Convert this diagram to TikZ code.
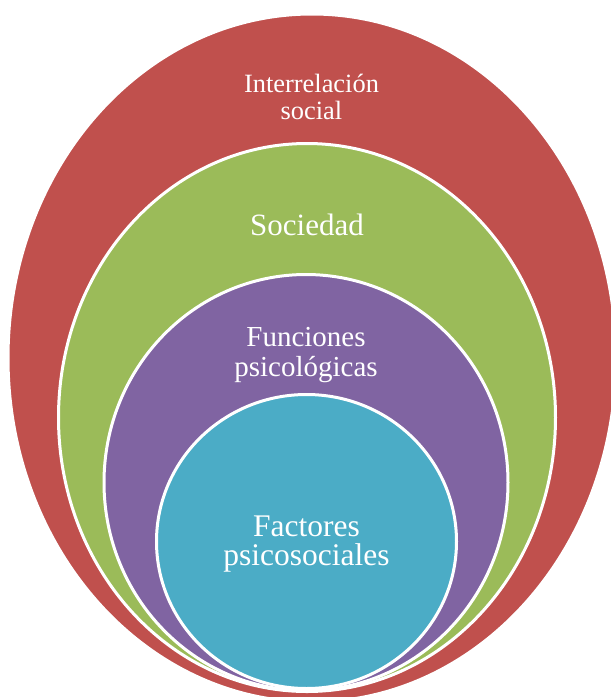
\documentclass[tikz,border=0pt]{standalone}
\usepackage{fontspec}
\setmainfont{Liberation Serif}
\definecolor{cred}{HTML}{C0504D}
\definecolor{cgreen}{HTML}{9BBB59}
\definecolor{cpurple}{HTML}{8064A2}
\definecolor{cteal}{HTML}{4BACC6}
\begin{document}
\begin{tikzpicture}[x=1pt,y=-1pt,
  ring/.style={draw=white,line width=3pt},
  lbl/.style={text=white,align=center,inner sep=0pt,anchor=base}]
\useasboundingbox (0,0) rectangle (611,697);
\clip (0,0) rectangle (611,697);
\fill[white] (0,0) rectangle (611,697);
\path[ring,fill=cred] (312,358) ellipse [x radius=304,y radius=344];
\path[ring,fill=cgreen] (307,417.5) ellipse [x radius=248.5,y radius=274];
\path[ring,fill=cpurple] (306,482.5) ellipse [x radius=202,y radius=208];
\path[ring,fill=cteal] (306.5,541.5) ellipse [x radius=150,y radius=147];
\node[lbl,font=\fontsize{26.4}{27.5}\selectfont] (t1) at (311.5,119.5) {Interrelación\\social};
\node[lbl,font=\fontsize{31}{31}\selectfont] (t2) at (307,235.5) {Sociedad};
\node[lbl,font=\fontsize{29}{30}\selectfont] (t3) at (306,376) {Funciones\\psicológicas};
\node[lbl,font=\fontsize{31.5}{28.5}\selectfont] (t4) at (306.5,565) {Factores\\psicosociales};
\end{tikzpicture}
\end{document}
